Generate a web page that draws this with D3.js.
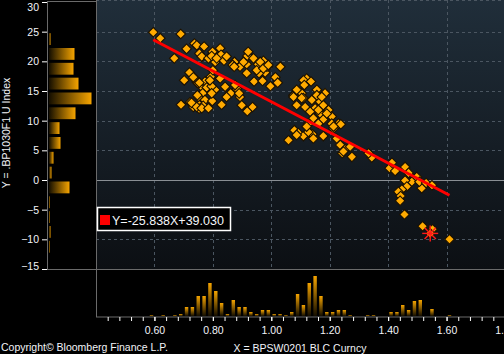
<!DOCTYPE html>
<html>
<head>
<meta charset="utf-8">
<script src="https://cdn.jsdelivr.net/npm/d3@7"></script>
<style>
    body { margin: 0; background: #000; }
    svg { display: block; font-family: "Liberation Sans", Arial, sans-serif; }
    .axis text { fill: #f2f4f8; font-size: 10.5px; }
    .axis line { stroke: #fff; }
    .grid line { stroke: #4b5661; stroke-dasharray: 3,3; }
</style>
</head>
<body>
<div id="chart"></div>
<script>
// scatter: x = BPSW0201 BLC Curncy, y = .BP1030F1 U Index (last point = latest)
const xVals = [
    0.596, 0.620, 0.690, 0.668, 0.710, 0.737, 0.745, 0.770, 0.754, 0.762,
    0.799, 0.825, 0.828, 0.785, 0.808, 0.838, 0.874, 0.868, 0.893, 0.918,
    0.921, 0.916, 0.916, 0.941, 0.955, 0.973, 0.988, 0.979, 0.970, 0.997,
    1.014, 1.031, 1.022, 0.962, 0.958, 0.720, 0.702, 0.745, 0.739, 0.762,
    0.750, 0.779, 0.773, 0.793, 0.800, 0.825, 0.842, 0.808, 0.779, 0.796,
    0.861, 0.882, 0.876, 0.893, 0.890, 0.847, 0.765, 0.750, 0.773, 0.798,
    0.691, 0.722, 0.733, 0.754, 0.767, 0.753, 0.830, 0.899, 0.918, 0.936,
    0.733, 0.754, 0.790, 0.796, 0.747, 0.727, 0.745, 0.762, 0.785, 0.796,
    0.813, 0.847, 0.873, 0.905, 0.939, 0.985, 1.121, 1.110, 1.136, 1.113,
    1.093, 1.076, 1.104, 1.156, 1.184, 1.110, 1.139, 1.167, 1.087, 1.116,
    1.150, 1.178, 1.196, 1.133, 1.167, 1.144, 1.178, 1.207, 1.127, 1.230,
    1.079, 1.093, 1.110, 1.141, 1.127, 1.178, 1.059, 1.087, 1.144, 1.213,
    1.224, 1.236, 1.253, 1.270, 1.243, 1.276, 1.238, 1.247, 1.344, 1.333,
    1.156, 1.173, 1.161, 1.190, 1.207, 1.121, 1.161, 0.950, 0.973, 0.990,
    1.087, 1.076, 1.104, 1.213, 1.405, 1.413, 1.424, 1.458, 1.470, 1.498,
    1.481, 1.458, 1.464, 1.447, 1.435, 1.515, 1.507, 1.530, 1.550, 1.443,
    1.441, 1.456, 1.518, 1.552, 1.610, 1.544
];
const yVals = [
    24.9, 23.9, 24.6, 20.5, 22.1, 23.0, 22.7, 22.5, 21.3, 20.8,
    21.6, 22.2, 21.1, 20.5, 19.9, 20.1, 19.9, 19.4, 19.1, 20.9,
    21.6, 19.5, 18.0, 16.6, 19.5, 20.1, 19.1, 18.1, 16.7, 15.8,
    17.3, 19.1, 16.4, 19.9, 18.0, 18.1, 16.8, 16.5, 17.1, 15.7,
    16.3, 16.1, 16.6, 17.4, 18.5, 17.1, 15.7, 15.2, 15.6, 15.8,
    14.6, 15.4, 16.0, 14.0, 14.6, 14.0, 14.6, 14.0, 13.5, 13.3,
    12.7, 13.1, 12.3, 12.6, 12.5, 12.0, 12.7, 12.6, 11.6, 12.3,
    17.3, 16.4, 16.8, 14.6, 14.3, 13.0, 12.3, 12.1, 12.1, 20.9,
    20.5, 20.8, 19.1, 19.9, 20.5, 19.1, 17.1, 16.8, 16.6, 16.0,
    14.9, 14.3, 14.6, 15.2, 14.6, 13.8, 13.5, 13.2, 12.6, 12.3,
    12.1, 12.6, 11.8, 11.5, 11.2, 10.4, 10.2, 10.7, 9.5, 9.5,
    8.4, 7.9, 7.4, 7.7, 8.1, 7.4, 6.7, 7.6, 7.0, 8.7,
    7.0, 5.9, 5.2, 5.6, 4.5, 3.9, 9.4, 4.8, 3.8, 4.5,
    14.3, 14.0, 11.8, 11.2, 9.5, 9.0, 9.5, 18.5, 18.8, 19.4,
    15.2, 14.0, 13.8, 9.0, 2.0, 2.9, 1.5, 2.2, 1.2, 0.5,
    -0.3, -0.1, -1.1, -1.6, -2.0, -1.4, -0.3, -0.5, -0.9, -2.7,
    -3.5, -5.8, -7.8, -8.3, -10.0, -9.0
];

// side histogram (y), bins of 2.5
const yBinStart = [22.5, 20, 17.5, 15, 12.5, 10, 7.5, 5, 2.5, 0, -2.5, -5, -7.5, -10, -12.5];
const yBinCount = [3, 51, 49, 59, 85, 53, 21, 23, 9, 5, 41, 1, 1, 3, 1];

// bottom histogram (x), bins of 0.02
const xBinStart = [0.58, 0.62, 0.66, 0.68, 0.70, 0.72, 0.74, 0.76, 0.78, 0.80,
    0.82, 0.84, 0.86, 0.88, 0.90, 0.92, 0.94, 0.96, 0.98, 1.00,
    1.02, 1.04, 1.06, 1.08, 1.10, 1.12, 1.14, 1.16, 1.18, 1.20,
    1.22, 1.24, 1.26, 1.32, 1.34, 1.40, 1.42, 1.44, 1.46, 1.48,
    1.50, 1.54, 1.60];
const xBinCount = [1, 1, 1, 2, 9, 9, 20, 20, 33, 25,
    13, 2, 16, 9, 9, 4, 2, 6, 6, 2,
    2, 1, 4, 22, 11, 33, 40, 20, 4, 4,
    6, 6, 1, 1, 1, 4, 4, 11, 6, 15,
    16, 7, 1];

// regression
const slope = -25.838;
const intercept = 39.030;
const eqLabel = "Y=-25.838X+39.030";

const xTicks = [0.6, 0.8, 1.0, 1.2, 1.4, 1.6, 1.8];
const yTicks = [30, 25, 20, 15, 10, 5, 0, -5, -10, -15];

class ScatterChart {

    constructor(parentElement) {
        this.parentElement = parentElement;
        this.initVis();
    }

    initVis() {
        let vis = this;

        vis.width = 504;
        vis.height = 354;

        vis.svg = d3.select("#" + vis.parentElement).append("svg")
            .attr("width", vis.width)
            .attr("height", vis.height);

        let defs = vis.svg.append("defs");
        let bg = defs.append("linearGradient").attr("id", "bgGrad")
            .attr("x1", 0).attr("y1", 0).attr("x2", 0).attr("y2", 1);
        bg.append("stop").attr("offset", "0%").attr("stop-color", "#202e3a");
        bg.append("stop").attr("offset", "100%").attr("stop-color", "#0c0f13");

        let hb = defs.append("linearGradient").attr("id", "hBar")
            .attr("x1", 0).attr("y1", 0).attr("x2", 1).attr("y2", 0);
        hb.append("stop").attr("offset", "0%").attr("stop-color", "#140e00");
        hb.append("stop").attr("offset", "100%").attr("stop-color", "#f5a400");

        let vb = defs.append("linearGradient").attr("id", "vBar")
            .attr("x1", 0).attr("y1", 1).attr("x2", 0).attr("y2", 0);
        vb.append("stop").attr("offset", "0%").attr("stop-color", "#140e00");
        vb.append("stop").attr("offset", "100%").attr("stop-color", "#f5a400");

        // scales
        vis.x = d3.scaleLinear().domain([0.4, 1.8]).range([96, 505]);
        vis.y = d3.scaleLinear().domain([-15, 30]).range([269, 2]);

        vis.updateVis();
    }

    updateVis() {
        let vis = this;
        let x = vis.x, y = vis.y;

        // main plot background
        vis.svg.append("rect")
            .attr("x", 96).attr("y", 0)
            .attr("width", 410).attr("height", 269)
            .attr("fill", "url(#bgGrad)");

        // grid
        let grid = vis.svg.append("g").attr("class", "grid");
        grid.selectAll(".vg")
            .data(xTicks.filter(d => d < 1.7))
            .enter().append("line")
            .attr("x1", d => Math.round(x(d)) + 0.5).attr("x2", d => Math.round(x(d)) + 0.5)
            .attr("y1", 0).attr("y2", 269);
        grid.selectAll(".hg")
            .data(yTicks.filter(d => d !== 0 && d !== 30 && d !== -15))
            .enter().append("line")
            .attr("x1", 96).attr("x2", 504)
            .attr("y1", d => Math.round(y(d)) + 0.5).attr("y2", d => Math.round(y(d)) + 0.5);
        grid.append("line")
            .attr("x1", 96).attr("x2", 504).attr("y1", 0.5).attr("y2", 0.5);

        vis.svg.append("line")
            .attr("x1", 96).attr("x2", 504)
            .attr("y1", Math.round(y(0)) + 0.5).attr("y2", Math.round(y(0)) + 0.5)
            .attr("stroke", "#8a8f94");

        // borders of main plot
        vis.svg.append("line").attr("x1", 96.5).attr("x2", 96.5).attr("y1", 0).attr("y2", 270)
            .attr("stroke", "#6a6a6a");
        vis.svg.append("line").attr("x1", 96).attr("x2", 504).attr("y1", 269.5).attr("y2", 269.5)
            .attr("stroke", "#6a6a6a");

        // left histogram panel
        vis.svg.append("rect")
            .attr("x", 47.5).attr("y", 1.5)
            .attr("width", 49).attr("height", 268)
            .attr("fill", "#000").attr("stroke", "#6a6a6a");

        let countX = d3.scaleLinear().domain([0, 100]).range([49, 99]);
        vis.svg.selectAll(".ybar")
            .data(yBinStart)
            .enter().append("rect")
            .attr("class", "ybar")
            .attr("x", 49)
            .attr("y", d => y(d + 2.5) + 1.5)
            .attr("height", d => y(d) - y(d + 2.5) - 3)
            .attr("width", (d, i) => countX(yBinCount[i]) - 49)
            .attr("fill", "url(#hBar)");

        // bottom histogram panel
        vis.svg.append("rect")
            .attr("x", 96.5).attr("y", 269.5)
            .attr("width", 410).attr("height", 47.5)
            .attr("fill", "#000").attr("stroke", "#6a6a6a");

        let countY = d3.scaleLinear().domain([0, 40]).range([316, 276]);
        vis.svg.selectAll(".xbar")
            .data(xBinStart)
            .enter().append("rect")
            .attr("class", "xbar")
            .attr("x", d => x(d) + 1.2)
            .attr("width", d => x(d + 0.02) - x(d) - 2.4)
            .attr("y", (d, i) => countY(xBinCount[i]))
            .attr("height", (d, i) => 316 - countY(xBinCount[i]))
            .attr("fill", "url(#vBar)");

        // axes
        let yAxis = vis.svg.append("g")
            .attr("class", "axis y-axis")
            .attr("transform", "translate(47,0)")
            .call(d3.axisLeft(y).tickValues(yTicks).tickSize(5).tickPadding(3).tickFormat(d3.format("d")));
        yAxis.select(".domain").remove();
        yAxis.selectAll(".tick text")
            .attr("dy", d => d === 30 ? "0.85em" : (d === -15 ? "0.05em" : "0.32em"));

        let xAxis = vis.svg.append("g")
            .attr("class", "axis x-axis")
            .attr("transform", "translate(0,317)")
            .call(d3.axisBottom(x).tickValues(xTicks).tickSize(4).tickPadding(6).tickFormat(d3.format(".2f")));
        xAxis.select(".domain").remove();

        let xMinor = vis.svg.append("g")
            .attr("class", "axis x-minor")
            .attr("transform", "translate(0,317)")
            .call(d3.axisBottom(x).tickValues(d3.range(0.44, 1.81, 0.04)).tickSize(4).tickFormat(""));
        xMinor.select(".domain").remove();

        // scatter points
        let pts = xVals.map((d, i) => ({x: d, y: yVals[i]}));
        vis.svg.selectAll(".pt")
            .data(pts)
            .enter().append("path")
            .attr("class", "pt")
            .attr("d", d3.symbol().type(d3.symbolSquare).size(46))
            .attr("transform", d => `translate(${x(d.x)},${y(d.y)}) rotate(45)`)
            .attr("fill", "#ffaa00")
            .attr("stroke", "#1a1000")
            .attr("stroke-width", 1.1);

        // regression line
        let ext = d3.extent(xVals);
        vis.svg.append("line")
            .attr("x1", x(ext[0])).attr("y1", y(slope * ext[0] + intercept))
            .attr("x2", x(ext[1])).attr("y2", y(slope * ext[1] + intercept))
            .attr("stroke", "#ff0000")
            .attr("stroke-width", 3);

        // latest point marker
        let last = pts[pts.length - 1];
        let star = vis.svg.append("g")
            .attr("transform", `translate(${x(last.x)},${y(last.y)})`);
        [0, 45, 90, 135].forEach(a => {
            star.append("line")
                .attr("x1", -8).attr("x2", 8).attr("y1", 0).attr("y2", 0)
                .attr("transform", `rotate(${a})`)
                .attr("stroke", "#ff1a1a")
                .attr("stroke-width", 1.4);
        });

        // legend
        let lg = vis.svg.append("g");
        lg.append("rect")
            .attr("x", 97.5).attr("y", 207.5)
            .attr("width", 133).attr("height", 23)
            .attr("fill", "#000").attr("stroke", "#fff").attr("stroke-width", 1.5);
        lg.append("rect")
            .attr("x", 100).attr("y", 215)
            .attr("width", 10).attr("height", 10)
            .attr("fill", "#ff0000");
        lg.append("text")
            .attr("x", 112).attr("y", 224.5)
            .attr("fill", "#f4f6fa")
            .attr("font-size", "12.5px")
            .text(eqLabel);

        // titles
        vis.svg.append("text")
            .attr("transform", "translate(10,133) rotate(-90)")
            .attr("text-anchor", "middle")
            .attr("fill", "#f2f4f8")
            .attr("font-size", "10.5px")
            .text("Y = .BP1030F1 U Index");

        vis.svg.append("text")
            .attr("x", 300).attr("y", 352)
            .attr("text-anchor", "middle")
            .attr("fill", "#f2f4f8")
            .attr("font-size", "10.5px")
            .text("X = BPSW0201 BLC Curncy");

        vis.svg.append("text")
            .attr("x", 1).attr("y", 351)
            .attr("fill", "#f2f4f8")
            .attr("font-size", "10.5px")
            .text("Copyright© Bloomberg Finance L.P.");
    }
}

new ScatterChart("chart");
</script>
</body>
</html>
